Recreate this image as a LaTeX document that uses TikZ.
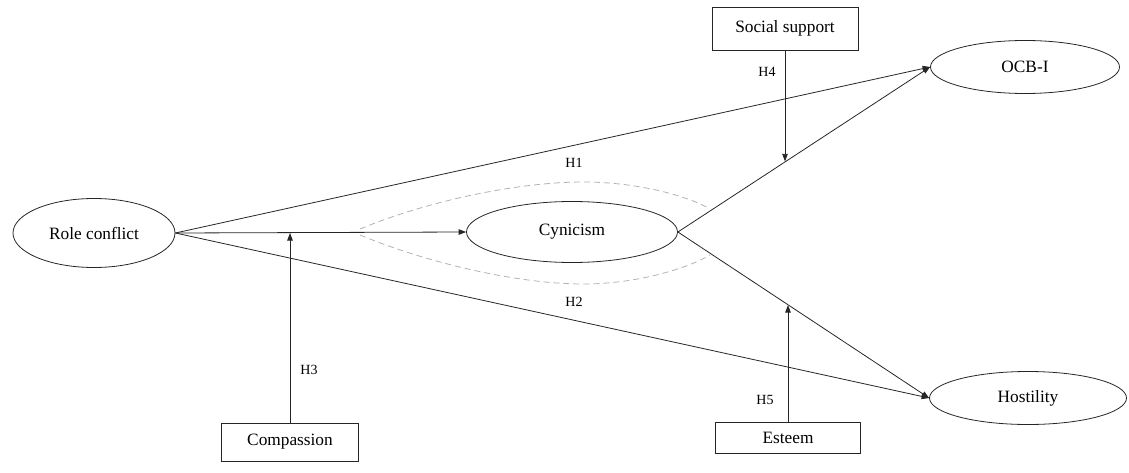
\documentclass[tikz,border=0pt]{standalone}
\usepackage{fontspec}
\setmainfont{Liberation Serif}
\usetikzlibrary{shapes.geometric,arrows.meta}
\begin{document}
\begin{tikzpicture}[x=1pt,y=-1pt,
  line/.style={draw=black!85,line width=0.8pt},
  arr/.style={line,-{Triangle[length=7.5pt,width=5.5pt]}},
  oval/.style={ellipse,line,inner sep=0pt,font=\fontsize{17.3}{20}\selectfont},
  rbox/.style={rectangle,line,inner sep=0pt,font=\fontsize{17.3}{20}\selectfont},
  hlab/.style={font=\fontsize{14}{16}\selectfont,inner sep=1pt},
  graydash/.style={draw=black!30,line width=0.8pt,dash pattern=on 6pt off 4pt}]
\useasboundingbox (0,0) rectangle (1129,473);
\node[oval,minimum width=162pt,minimum height=69pt] (rc) at (94,233) {Role conflict};
\node[oval,minimum width=211pt,minimum height=61pt] (cyn) at (572,232) {Cynicism};
\node[oval,minimum width=189pt,minimum height=53pt] (ocb) at (1025,67) {OCB-I};
\node[oval,minimum width=197pt,minimum height=53pt] (hos) at (1028,398) {Hostility};
\node[rbox,minimum width=146pt,minimum height=43pt] (ss) at (785,28.5) {Social support};
\node[rbox,minimum width=145pt,minimum height=31pt] (est) at (788,438) {Esteem};
\node[rbox,minimum width=137pt,minimum height=38pt] (com) at (290,442) {Compassion};
\draw[arr] (rc.east) -- (cyn.west);
\draw[arr] (rc.east) -- (ocb.west);
\draw[arr] (rc.east) -- (hos.west);
\draw[arr] (cyn.east) -- coordinate[pos=0.428] (m2) (ocb.west);
\draw[arr] (cyn.east) -- coordinate[pos=0.44] (m3) (hos.west);
\draw[arr] (com.north) -- (com.north |- rc.east);
\draw[arr] (ss.south) -- (ss.south |- m2);
\draw[arr] (est.north) -- (est.north |- m3);
\draw[graydash] (360,229) .. controls (430,200) and (520,182) .. (583,182) .. controls (640,182) and (690,197) .. (710,209);
\draw[graydash] (360,235) .. controls (430,264) and (520,284) .. (583,284) .. controls (640,284) and (690,267) .. (710,255);
\node[hlab] (h1) at (574,162.5) {H1};
\node[hlab] (h2) at (574,302) {H2};
\node[hlab] (h3) at (309,370) {H3};
\node[hlab] (h4) at (767,72) {H4};
\node[hlab] (h5) at (765,400) {H5};
\end{tikzpicture}
\end{document}
